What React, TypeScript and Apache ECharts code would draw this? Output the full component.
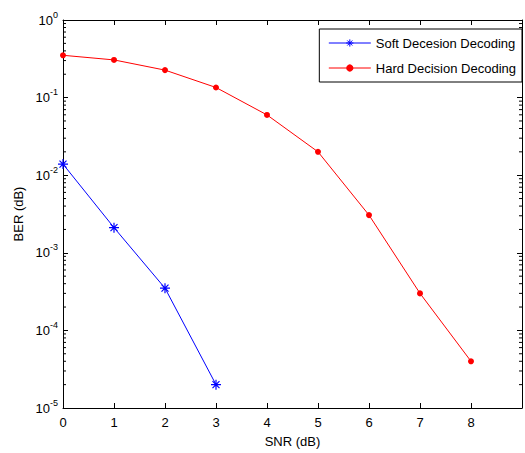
import React, { useEffect, useRef } from "react";
import * as echarts from "echarts";

const snr = [0, 1, 2, 3, 4, 5, 6, 7, 8];
const softBer = [0.0139, 0.00211, 0.00035, 0.00002];
const hardBer = [0.351, 0.306, 0.226, 0.135, 0.0598, 0.02, 0.00306, 0.0003, 0.00004];
const softName = "Soft Decesion Decoding";
const hardName = "Hard Decision Decoding";
const xTitle = "SNR (dB)";
const yTitle = "BER (dB)";
const decades = [-5, -4, -3, -2, -1];
const minorMultipliers = [2, 3, 4, 5, 6, 7, 8, 9];

const FONT = "'Liberation Sans', Arial, Helvetica, sans-serif";

export default function App() {
  const ref = useRef<HTMLDivElement>(null);
  useEffect(() => {
    if (!ref.current) return;
    const chart = echarts.init(ref.current, null, { renderer: "svg" });
    const minorVals: number[] = [];
    decades.forEach((d) => minorMultipliers.forEach((m) => minorVals.push(m * Math.pow(10, d))));
    const asterisk =
      "path://M5,0L5,10M0,5L10,5M1.5,1.5L8.5,8.5M1.5,8.5L8.5,1.5";
    chart.setOption({
      animation: false,
      backgroundColor: "#ffffff",
      textStyle: { fontFamily: FONT, color: "#000" },
      grid: { left: 63, right: -1, top: 20, bottom: 41 },
      legend: {
        right: 3,
        top: 29,
        orient: "vertical",
        itemWidth: 42,
        itemHeight: 9,
        itemGap: 12,
        padding: [7.5, 6, 7.5, 9],
        borderColor: "#000",
        borderWidth: 1,
        backgroundColor: "#fff",
        lineStyle: { width: 1 },
        textStyle: { fontFamily: FONT, fontSize: 13, color: "#000", padding: [0, 0, 0, 0] },
        data: [
          {
            name: softName,
            itemStyle: { color: "none", borderColor: "#0000ff", borderWidth: 1 },
          },
          { name: hardName },
        ],
      },
      xAxis: [
        {
          type: "value",
          min: 0,
          max: 9,
          interval: 1,
          name: xTitle,
          nameLocation: "middle",
          nameGap: 27,
          nameTextStyle: { fontFamily: FONT, fontSize: 13, color: "#000" },
          axisLine: { onZero: false, lineStyle: { color: "#000", width: 1 } },
          axisTick: { inside: true, length: 5, lineStyle: { color: "#000" } },
          axisLabel: {
            fontFamily: FONT,
            fontSize: 13,
            color: "#000",
            margin: 8,
            formatter: (v: number) => (v > 8 ? "" : String(v)),
          },
          splitLine: { show: false },
        },
        {
          type: "value",
          position: "top",
          min: 0,
          max: 9,
          interval: 1,
          axisLine: { onZero: false, lineStyle: { color: "#000", width: 1 } },
          axisTick: { inside: true, length: 5, lineStyle: { color: "#000" } },
          axisLabel: { show: false },
          splitLine: { show: false },
        },
      ],
      yAxis: [
        {
          type: "log",
          logBase: 10,
          min: 1e-5,
          max: 1,
          name: yTitle,
          nameLocation: "middle",
          nameGap: 37,
          nameTextStyle: { fontFamily: FONT, fontSize: 13, color: "#000" },
          axisLine: { onZero: false, lineStyle: { color: "#000", width: 1 } },
          axisTick: { inside: true, length: 5, lineStyle: { color: "#000" } },
          axisLabel: {
            margin: 5,
            formatter: (v: number) => `{b|10}{s|${Math.round(Math.log10(v))}}`,
            rich: {
              b: { fontFamily: FONT, fontSize: 13, color: "#000", lineHeight: 20 },
              s: { fontFamily: FONT, fontSize: 9, color: "#000", lineHeight: 10, verticalAlign: "top" },
            },
          },
          splitLine: { show: false },
        },
        {
          type: "log",
          logBase: 10,
          min: 1e-5,
          max: 1,
          position: "right",
          axisLine: { onZero: false, lineStyle: { color: "#000", width: 1 } },
          axisTick: { inside: true, length: 5, lineStyle: { color: "#000" } },
          axisLabel: { show: false },
          splitLine: { show: false },
        },
      ],
      series: [
        {
          type: "custom",
          silent: true,
          xAxisIndex: 0,
          yAxisIndex: 0,
          clip: false,
          data: minorVals.map((v) => [0, v]),
          renderItem: (params: any, api: any) => {
            const v = api.value(1);
            const pl = api.coord([0, v]);
            const pr = api.coord([9, v]);
            return {
              type: "group",
              children: [
                { type: "line", shape: { x1: pl[0], y1: pl[1], x2: pl[0] + 3, y2: pl[1] }, style: { stroke: "#000", lineWidth: 1 } },
                { type: "line", shape: { x1: pr[0], y1: pr[1], x2: pr[0] - 3, y2: pr[1] }, style: { stroke: "#000", lineWidth: 1 } },
              ],
            };
          },
        },
        {
          name: softName,
          type: "line",
          data: softBer.map((v, i) => [snr[i], v]),
          color: "#0000ff",
          lineStyle: { color: "#0000ff", width: 1 },
          symbol: asterisk,
          symbolSize: 10,
          itemStyle: { color: "none", borderColor: "#0000ff", borderWidth: 1.2 },
          showAllSymbol: true,
        },
        {
          name: hardName,
          type: "line",
          data: hardBer.map((v, i) => [snr[i], v]),
          color: "#ff0000",
          lineStyle: { color: "#ff0000", width: 1 },
          symbol: "circle",
          symbolSize: 6,
          itemStyle: { color: "#ff0000", borderWidth: 0 },
          showAllSymbol: true,
        },
      ],
    });
    return () => chart.dispose();
  }, []);
  return <div ref={ref} style={{ width: 525, height: 453, position: "absolute", left: 0, top: 0 }} />;
}
